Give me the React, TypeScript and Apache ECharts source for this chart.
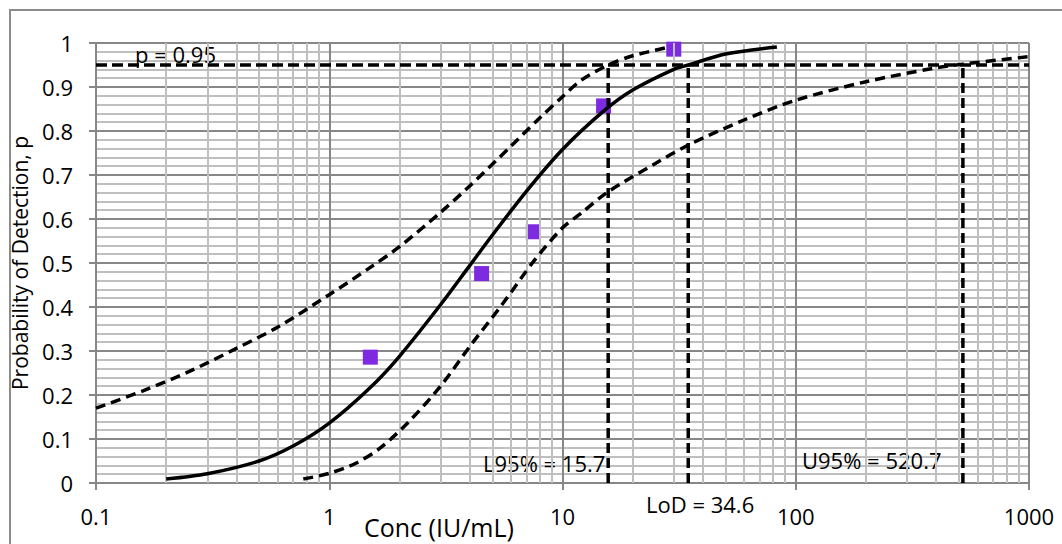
import React, { useEffect, useRef } from "react";
import * as echarts from "echarts";

// Observed detection rates
const obsConc = [1.5, 4.5, 7.5, 15, 30];
const obsRate = [0.286, 0.476, 0.571, 0.857, 0.986];

// Fitted probit curve
const fitConc = [0.2, 0.3, 0.5, 0.7, 1.0, 1.5, 2.0, 3.0, 4.0, 5.0, 7.0, 10, 15, 20, 30, 34.6, 50, 83];
const fitP = [0.009, 0.021, 0.05, 0.084, 0.136, 0.217, 0.288, 0.405, 0.494, 0.563, 0.663, 0.758, 0.845, 0.893, 0.94, 0.95, 0.975, 0.991];

// Upper confidence band (left dashed curve)
const upConc = [0.1, 0.16, 0.25, 0.4, 0.6, 1.0, 1.5, 2.0, 3.0, 4.0, 6.0, 8.0, 10, 12, 15.7, 20, 28.9];
const upP = [0.17, 0.21, 0.253, 0.306, 0.354, 0.428, 0.49, 0.537, 0.615, 0.675, 0.765, 0.83, 0.878, 0.915, 0.95, 0.971, 0.991];

// Lower confidence band (right dashed curve)
const loConc = [0.774, 1.0, 1.3, 1.65, 2.2, 3.0, 4.0, 5.5, 7.5, 10, 12, 15.7, 25, 34.6, 60, 100, 200, 388, 520.7, 1000];
const loP = [0.009, 0.022, 0.045, 0.079, 0.14, 0.22, 0.31, 0.405, 0.503, 0.58, 0.613, 0.662, 0.726, 0.768, 0.825, 0.87, 0.912, 0.9424, 0.952, 0.969];

// Reference levels
const pLevel = 0.95;
const l95 = 15.7;
const lod = 34.6;
const u95 = 520.7;
const xMin = 0.1;
const xMax = 1000;

// Minor x grid positions (2..9 in each decade)
const xMinorTicks = [0.2, 0.3, 0.4, 0.5, 0.6, 0.7, 0.8, 0.9, 2, 3, 4, 5, 6, 7, 8, 9, 20, 30, 40, 50, 60, 70, 80, 90, 200, 300, 400, 500, 600, 700, 800, 900];

const FONT = "Open Sans";
const MAJOR = "#878787";
const MINOR = "#bfbfbf";

export default function App() {
  const ref = useRef<HTMLDivElement>(null);
  useEffect(() => {
    document.body.style.margin = "0";
    const chart = echarts.init(ref.current!, null, { renderer: "svg" });
    const zip = (a: number[], b: number[]) => a.map((v, i) => [v, b[i]]);
    const dashed = { color: "#000", width: 3.5, type: [10, 6] as any };
    const vline = (x: number) => ({
      type: "line",
      data: [[x, 0], [x, pLevel]],
      showSymbol: false,
      silent: true,
      lineStyle: { color: "#000", width: 3.5, type: [10, 5] as any },
      z: 5,
    });
    const txt = (text: string, x: number, y: number, size = 22) => ({
      type: "text",
      x,
      y,
      z: 4,
      silent: true,
      style: { text, font: `${size}px '${FONT}'`, fill: "#000", verticalAlign: "middle" },
    });
    chart.setOption({
      animation: false,
      grid: { left: 96, top: 43, right: 33, bottom: 61 },
      xAxis: {
        type: "log",
        logBase: 10,
        min: xMin,
        max: xMax,
        axisLine: { show: true, lineStyle: { color: MAJOR, width: 2 } },
        axisTick: { show: true, length: 7, lineStyle: { color: MAJOR, width: 2 } },
        axisLabel: {
          margin: 22,
          fontFamily: FONT,
          fontSize: 22,
          color: "#000",
          formatter: (v: number) => String(parseFloat(v.toPrecision(3))),
        },
        splitLine: { show: true, lineStyle: { color: MAJOR, width: 2 } },
      },
      yAxis: {
        type: "value",
        min: 0,
        max: 1,
        interval: 0.1,
        name: "Probability of Detection, p",
        nameLocation: "middle",
        nameGap: 66,
        nameRotate: 90,
        nameTextStyle: { fontFamily: FONT, fontSize: 21, color: "#000" },
        axisLine: { show: true, lineStyle: { color: MAJOR, width: 2 } },
        axisTick: { show: true, length: 7, lineStyle: { color: MAJOR, width: 2 } },
        axisLabel: {
          margin: 23,
          fontFamily: FONT,
          fontSize: 22,
          color: "#000",
          formatter: (v: number) => String(parseFloat(v.toFixed(2))),
        },
        splitLine: { show: true, lineStyle: { color: MAJOR, width: 2 } },
        minorTick: { show: false, splitNumber: 5 },
        minorSplitLine: { show: true, lineStyle: { color: MINOR, width: 2 } },
      },
      graphic: [
        {
          type: "rect",
          shape: { x: 10, y: 10, width: 1100, height: 600 },
          style: { fill: "none", stroke: "#8c8c8c", lineWidth: 2 },
          silent: true,
        },
        txt("Conc (IU/mL)", 364, 527, 25),
        txt("p = 0.95", 135, 54),
        txt("L95% = 15.7", 483, 463),
        txt("LoD = 34.6", 646, 504),
        txt("U95% = 520.7", 802, 460),
      ],
      series: [
        {
          type: "line",
          data: [[xMin, 0]],
          showSymbol: false,
          silent: true,
          lineStyle: { opacity: 0 },
          z: 1,
          markLine: {
            silent: true,
            symbol: ["none", "none"],
            label: { show: false },
            lineStyle: { type: "solid", color: MINOR, width: 2 },
            data: xMinorTicks.map((v) => ({ xAxis: v })),
          },
        },
        {
          type: "scatter",
          data: zip(obsConc, obsRate),
          symbol: "rect",
          symbolSize: 15,
          itemStyle: { color: "#7e2ae0", opacity: 1 },
          z: 3,
        },
        {
          type: "line",
          data: zip(fitConc, fitP),
          showSymbol: false,
          smooth: 0.3,
          lineStyle: { color: "#000", width: 3.5 },
          z: 6,
        },
        { type: "line", data: zip(upConc, upP), showSymbol: false, smooth: 0.3, lineStyle: dashed, z: 6 },
        { type: "line", data: zip(loConc, loP), showSymbol: false, smooth: 0.3, lineStyle: dashed, z: 6 },
        {
          type: "line",
          data: [[xMin, pLevel], [xMax, pLevel]],
          showSymbol: false,
          silent: true,
          lineStyle: { color: "#000", width: 3.5, type: [11, 5] as any },
          z: 5,
        },
        vline(l95),
        vline(lod),
        vline(u95),
      ],
    });
    return () => chart.dispose();
  }, []);
  return <div ref={ref} style={{ width: 1062, height: 544 }} />;
}
